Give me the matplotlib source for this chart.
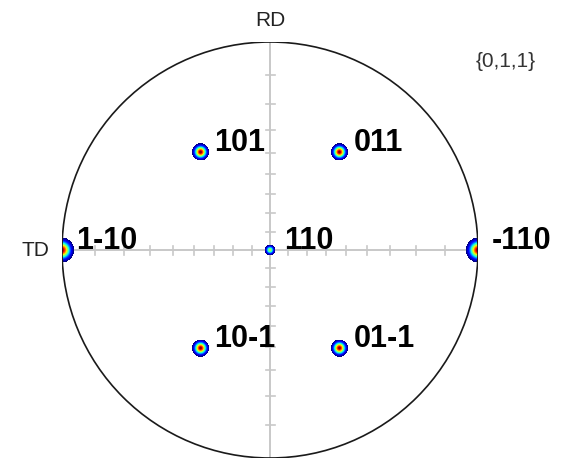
import numpy as np
import matplotlib.pyplot as plt
from matplotlib.patches import Circle

# {0,1,1} poles: label, tilt from the centre (deg), azimuth from RD towards TD (deg)
pole_labels = ["110", "101", "011", "1-10", "-110", "10-1", "01-1"]
pole_tilt = [0, 60, 60, 90, 90, 60, 60]
pole_azim = [0, 35.3, -35.3, 90, -90, 144.7, -144.7]
# peak intensity and spread (deg) of each spot
pole_peak = [0.6, 1.0, 1.0, 1.0, 1.0, 1.0, 1.0]
pole_spread = [1.35, 1.5, 1.5, 1.45, 1.45, 1.5, 1.5]

# tick angles along RD / TD axes (deg)
tick_deg = [10, 20, 30, 40, 50, 60, 70, 80]

plt.rcParams['font.family'] = ['Liberation Sans', 'DejaVu Sans']

fig = plt.figure(figsize=(5.62, 4.64), dpi=100)
R = 208.0
cx, cy = 270.0, 464 - 251.0
ax = fig.add_axes([(cx - R) / 562, (cy - R) / 464, 2 * R / 562, 2 * R / 464])
ax.set_xlim(-1, 1)
ax.set_ylim(-1, 1)
ax.axis('off')

# axis lines and ticks (stereographic spacing)
grey = '#c8c8c8'
ax.plot([-1, 1], [0, 0], color=grey, lw=1.4, zorder=1)
ax.plot([0, 0], [-1, 1], color=grey, lw=1.4, zorder=1)
tl = 4.5 / R
for d in tick_deg:
    r = np.tan(np.radians(d) / 2)
    for s in (-1, 1):
        ax.plot([s * r, s * r], [-tl, tl], color=grey, lw=1.2, zorder=1)
        ax.plot([-tl, tl], [s * r, s * r], color=grey, lw=1.2, zorder=1)

# pole figure intensity: gaussian spots on the sphere, projected
N = 416
g = (np.arange(N) + 0.5) / N * 2 - 1
U, V = np.meshgrid(g, g)
rho2 = U ** 2 + V ** 2
X = 2 * U / (1 + rho2)
Y = 2 * V / (1 + rho2)
Z = (1 - rho2) / (1 + rho2)
inten = np.zeros_like(U)
for t, a, pk, sd in zip(pole_tilt, pole_azim, pole_peak, pole_spread):
    t, a = np.radians(t), np.radians(a)
    p = np.array([-np.sin(t) * np.sin(a), np.sin(t) * np.cos(a), np.cos(t)])
    dot = np.clip(X * p[0] + Y * p[1] + Z * p[2], -1, 1)
    d = np.arccos(dot)
    inten += pk * np.exp(-0.5 * (d / np.radians(sd)) ** 2)
thr = 0.06
img = np.ma.masked_where((inten < thr) | (rho2 > 1), inten)
ax.imshow(img, extent=[-1, 1, -1, 1], origin='lower', cmap='jet',
          vmin=thr, vmax=1.0, interpolation='nearest', zorder=2)

ax.add_patch(Circle((0, 0), 1, fill=False, ec='#1a1a1a', lw=1.2, zorder=3))

# pole labels
for lab, t, a in zip(pole_labels, pole_tilt, pole_azim):
    r = np.tan(np.radians(t) / 2)
    x = -r * np.sin(np.radians(a))
    y = r * np.cos(np.radians(a))
    ax.annotate(lab, (x, y), xytext=(14, 2), textcoords='offset pixels',
                ha='left', va='baseline', fontsize=22, fontweight='bold',
                color='black', annotation_clip=False, zorder=4)

ax.annotate("RD", (0, 1), xytext=(0, 13), textcoords='offset pixels',
            ha='center', va='bottom', fontsize=15, color='#222222',
            annotation_clip=False)
ax.annotate("TD", (-1, 0), xytext=(-13, 0), textcoords='offset pixels',
            ha='right', va='center', fontsize=15, color='#222222',
            annotation_clip=False)
ax.text(1.135, 0.91, "{0,1,1}", ha='center', va='center', fontsize=15,
        color='#333333', clip_on=False)

fig.savefig('out.png', dpi=100)
